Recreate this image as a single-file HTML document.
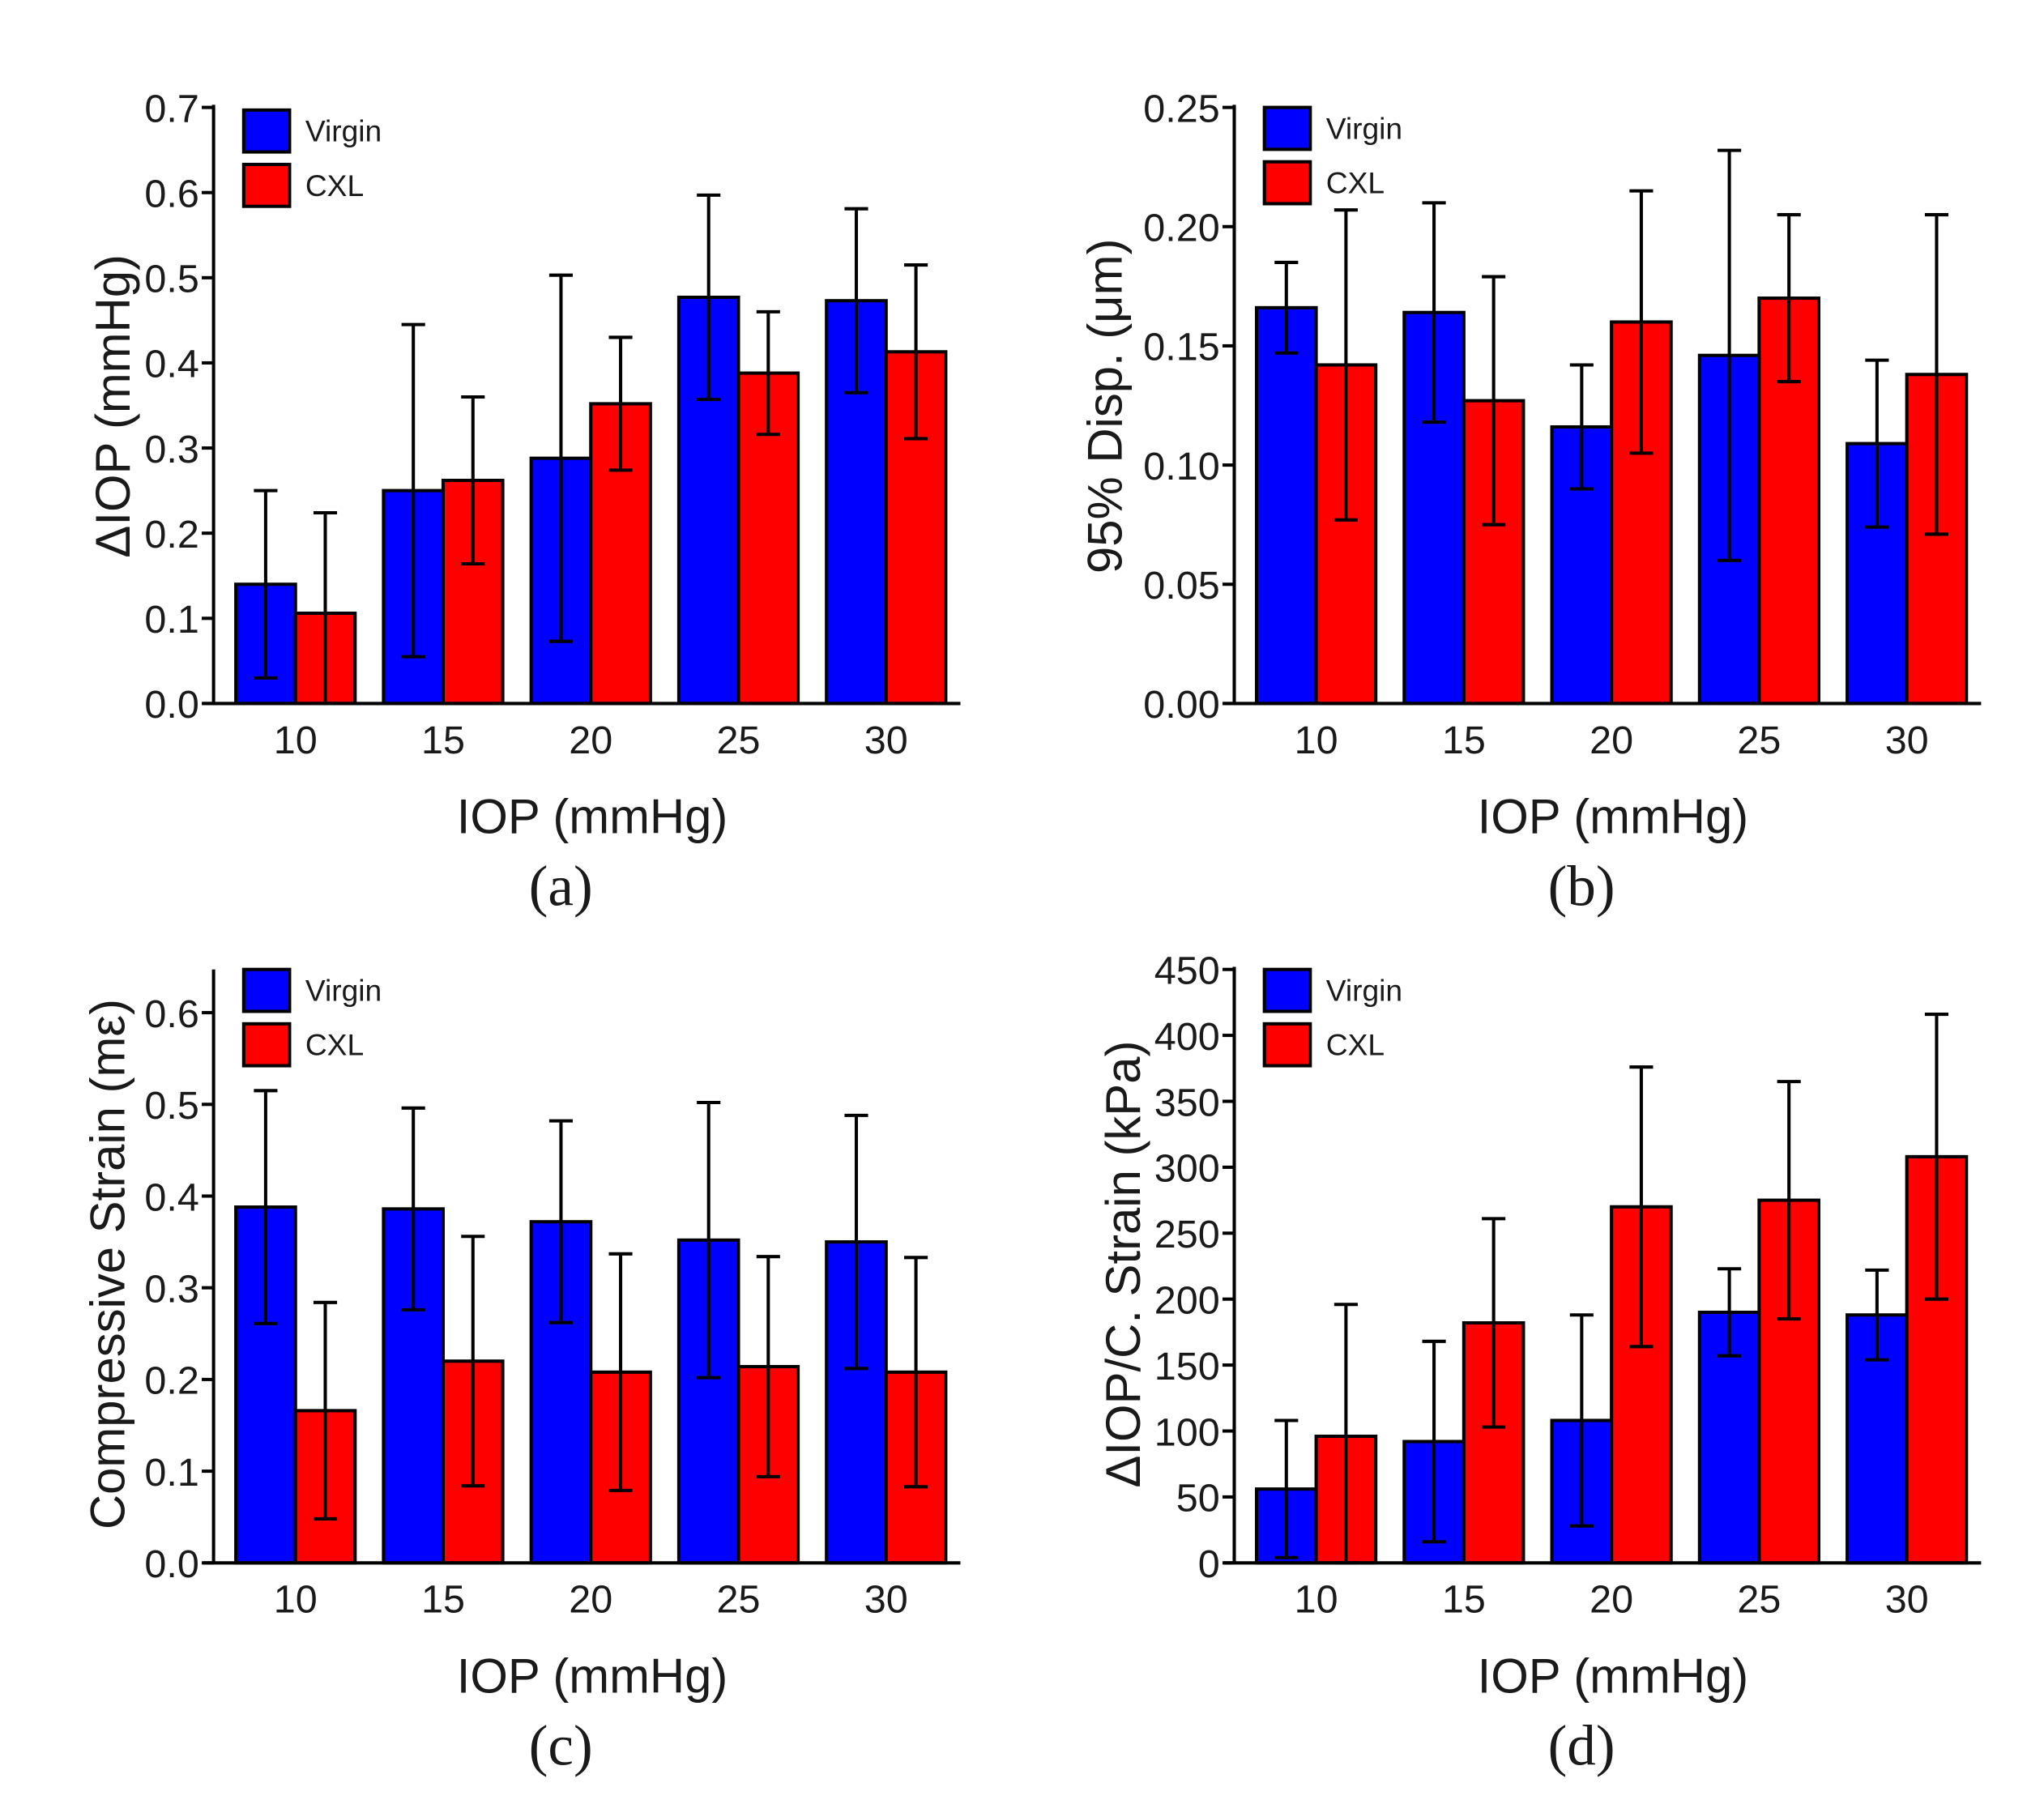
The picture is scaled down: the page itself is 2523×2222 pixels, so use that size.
<!DOCTYPE html>
<html><head><meta charset="utf-8"><style>
html,body{margin:0;padding:0;background:#fff;}
svg{display:block;}
text{font-family:"Liberation Sans",sans-serif;fill:#1a1a1a;}
</style></head><body>
<svg id="fig" width="2523" height="2222" viewBox="0 0 1560 1374" preserveAspectRatio="none" xmlns="http://www.w3.org/2000/svg"></svg>
<script>
const categories = ["10","15","20","25","30"];
// panel a
const aVirgin = [0.14,0.25,0.288,0.477,0.473];
const aVirginErr = [0.11,0.195,0.215,0.12,0.108];
const aCxl = [0.106,0.262,0.352,0.388,0.413];
const aCxlErr = [0.118,0.098,0.078,0.072,0.102];
const aTicks = ["0.0","0.1","0.2","0.3","0.4","0.5","0.6","0.7"];
// panel b
const bVirgin = [0.166,0.164,0.116,0.146,0.109];
const bVirginErr = [0.019,0.046,0.026,0.086,0.035];
const bCxl = [0.142,0.127,0.160,0.170,0.138];
const bCxlErr = [0.065,0.052,0.055,0.035,0.067];
const bTicks = ["0.00","0.05","0.10","0.15","0.20","0.25"];
// panel c
const cVirgin = [0.388,0.386,0.372,0.352,0.350];
const cVirginErr = [0.127,0.11,0.11,0.15,0.138];
const cCxl = [0.166,0.22,0.208,0.214,0.208];
const cCxlErr = [0.118,0.136,0.129,0.12,0.125];
const cTicks = ["0.0","0.1","0.2","0.3","0.4","0.5","0.6"];
// panel d
const dVirgin = [56,92,108,190,188];
const dVirginErr = [52,76,80,33,34];
const dCxl = [96,182,270,275,308];
const dCxlErr = [100,79,106,90,108];
const dTicks = ["0","50","100","150","200","250","300","350","400","450"];

const NS="http://www.w3.org/2000/svg";
const svg=document.getElementById('fig');
function mk(tag,attrs,parent,txt){const e=document.createElementNS(NS,tag);for(const k in attrs)e.setAttribute(k,attrs[k]);if(txt!==undefined)e.textContent=txt;(parent||svg).appendChild(e);return e;}

function panel(o){
  const g=mk('g',{});
  
  
  const x0=o.ax, y0=o.y0, ytop=o.ytop;
  const yScale=v=>y0-(v-o.min)/(o.max-o.min)*(o.y0-o.yMaxPix);
  const groupW=112.7, barW=45.5, first=x0+17;
  const xBar=(i,s)=>first+i*groupW+s*barW;
  [[o.v,o.ve,'#0000ff','virgin'],[o.c,o.ce,'#ff0000','cxl']].forEach((ser,s)=>{
    ser[0].forEach((v,i)=>{
      const r=mk('rect',{x:xBar(i,s),y:yScale(v),width:barW,height:y0-yScale(v),fill:ser[2],stroke:'#000','stroke-width':2.5},g);
      
      
    });
  });
  [[o.v,o.ve,'virgin'],[o.c,o.ce,'cxl']].forEach((ser,s)=>{
    ser[0].forEach((v,i)=>{
      const cx=xBar(i,s)+barW/2;
      const hi=yScale(v+ser[1][i]); const lo=Math.min(y0,yScale(v-ser[1][i]));
      const eg=mk('g',{stroke:'#000','stroke-width':2.5},g);
      
      
      mk('line',{x1:cx,y1:hi,x2:cx,y2:lo},eg);
      mk('line',{x1:cx-9,y1:hi,x2:cx+9,y2:hi},eg);
      mk('line',{x1:cx-9,y1:lo,x2:cx+9,y2:lo},eg);
    });
  });
  const ya=mk('line',{x1:x0,y1:ytop,x2:x0,y2:y0+1,stroke:'#000','stroke-width':2.5},g);
  
  const xa=mk('line',{x1:x0-8,y1:y0,x2:x0+570,y2:y0,stroke:'#000','stroke-width':2.5},g);
  
  o.ticks.forEach((t,k)=>{
    const yy=yScale(o.min+k*o.step);
    mk('line',{x1:x0-9,y1:yy,x2:x0,y2:yy,stroke:'#000','stroke-width':2.5},g);
    const tl=mk('text',{x:x0-11,y:yy+11,'font-size':30,'text-anchor':'end'},g,t);
    
  });
  categories.forEach((c,i)=>{
    const tl=mk('text',{x:xBar(i,1),y:y0+38,'font-size':30,'text-anchor':'middle'},g,c);
    
  });
  const xt=mk('text',{x:x0+289,y:y0+99,'font-size':37,'text-anchor':'middle'},g,'IOP (mmHg)');
  
  const yt=mk('text',{x:0,y:0,'font-size':37,'text-anchor':'middle',transform:`translate(${o.ytx},${o.yty}) rotate(-90)`},g,o.ytitle);
  
  const pl=mk('text',{x:x0+265,y:y0+154,'font-size':44,'text-anchor':'middle',style:'font-family:"Liberation Serif",serif'},g,'('+o.id+')');
  
  [['Virgin','#0000ff'],['CXL','#ff0000']].forEach((L,k)=>{
    const lg=mk('g',{},g);
    
    
    const by=o.legY+k*41.5;
    mk('rect',{x:x0+23,y:by,width:35,height:32,fill:L[1],stroke:'#000','stroke-width':2.5},lg);
    mk('text',{x:x0+70,y:by+24,'font-size':23},lg,L[0]);
  });
}
panel({id:'a',ax:163,y0:537,yMaxPix:82,ytop:80,min:0,max:0.7,step:0.1,ticks:aTicks,v:aVirgin,ve:aVirginErr,c:aCxl,ce:aCxlErr,ytitle:'ΔIOP (mmHg)',ytx:99,yty:310,legY:84});
panel({id:'b',ax:942,y0:537,yMaxPix:82,ytop:80,min:0,max:0.25,step:0.05,ticks:bTicks,v:bVirgin,ve:bVirginErr,c:bCxl,ce:bCxlErr,ytitle:'95% Disp. (μm)',ytx:856,yty:310,legY:82});
panel({id:'c',ax:163,y0:1193,yMaxPix:773,ytop:740,min:0,max:0.6,step:0.1,ticks:cTicks,v:cVirgin,ve:cVirginErr,c:cCxl,ce:cCxlErr,ytitle:'Compressive Strain (mε)',ytx:95,yty:965,legY:740});
panel({id:'d',ax:942,y0:1193,yMaxPix:740,ytop:738,min:0,max:450,step:50,ticks:dTicks,v:dVirgin,ve:dVirginErr,c:dCxl,ce:dCxlErr,ytitle:'ΔIOP/C. Strain (kPa)',ytx:870,yty:965,legY:740});
</script>
</body></html>
